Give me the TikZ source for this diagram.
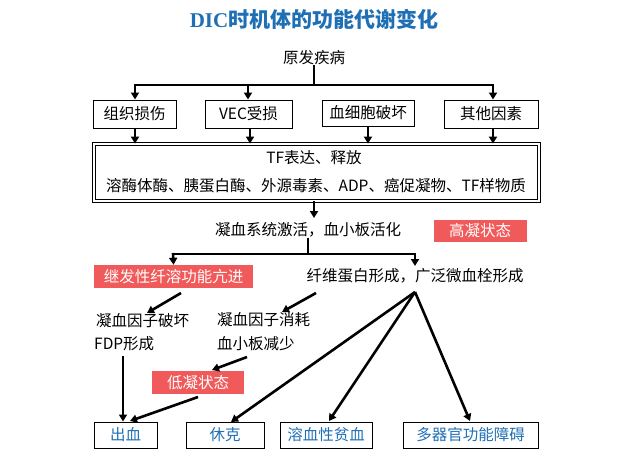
\documentclass[tikz,border=0pt]{standalone}
\usepackage{fontspec}
\setmainfont{Noto Sans CJK SC}
\newfontfamily\titlefont{Liberation Serif}
\usetikzlibrary{arrows.meta}
\definecolor{tblue}{HTML}{1F6FB5}
\definecolor{tred}{HTML}{F05A5A}
\begin{document}
\begin{tikzpicture}[x=1pt,y=-1pt,
  txt/.style={font=\fontsize{15.5}{17}\selectfont,inner sep=0pt},
  box/.style={draw,line width=1pt,inner sep=0pt,font=\fontsize{15.5}{17}\selectfont},
  rbox/.style={fill=tred,inner sep=0pt,text=white,font=\fontsize{15.5}{17}\selectfont},
  bbox/.style={draw,line width=1pt,inner sep=0pt,text=tblue,font=\fontsize{15.5}{17}\selectfont},
  ar/.style={line width=2.6pt,-{Triangle[length=7pt,width=8pt]}},
  ln/.style={line width=2.6pt}]
\useasboundingbox (0,0) rectangle (628,474);
\node[font=\fontsize{21}{23}\selectfont\bfseries,text=tblue] (title) at (314,19) {{\titlefont DIC}时机体的功能代谢变化};
\node[txt] (src) at (314,58) {原发疾病};
\node[box,minimum width=83,minimum height=28] (b1) at (134.5,114) {组织损伤};
\node[box,minimum width=87,minimum height=28] (b2) at (248.5,114) {VEC受损};
\node[box,minimum width=92,minimum height=26] (b3) at (368,113) {血细胞破坏};
\node[box,minimum width=94,minimum height=28] (b4) at (491,114) {其他因素};
\node[draw,double,double distance=1.5pt,line width=0.8pt,minimum width=445,minimum height=57,inner sep=0pt] (big) at (316.5,172.5) {};
\node[txt] (t1) at (314,158) {TF表达、释放};
\node[txt] (t2) at (316,186) {溶酶体酶、胰蛋白酶、外源毒素、ADP、癌促凝物、TF样物质};
\node[txt] (act) at (308,230) {凝血系统激活，血小板活化};
\node[rbox,minimum width=93,minimum height=22] (high) at (480,231) {高凝状态};
\node[rbox,minimum width=159,minimum height=23] (fib) at (173.5,276.5) {继发性纤溶功能亢进};
\node[txt] (micro) at (415,276) {纤维蛋白形成，广泛微血栓形成};
\node[txt,anchor=west] (d1) at (94,321) {\hspace{2pt}凝血因子破坏};
\node[txt,anchor=west] (d2) at (94,344) {FDP形成};
\node[txt,anchor=west] (c1) at (217,320) {凝血因子消耗};
\node[txt,anchor=west] (c2) at (217,344) {血小板减少};
\node[rbox,minimum width=92,minimum height=23] (low) at (198,382.5) {低凝状态};
\node[bbox,minimum width=63,minimum height=26] (o1) at (125.5,435) {出血};
\node[bbox,minimum width=78,minimum height=26] (o2) at (225,435) {休克};
\node[bbox,minimum width=92,minimum height=26] (o3) at (326,435) {溶血性贫血};
\node[bbox,minimum width=135,minimum height=26] (o4) at (470.5,435) {多器官功能障碍};
\coordinate (j1) at (314,85);
\draw[ln] (src.south) -- (j1);
\draw[ln] (135,85) -- (493,85);
\draw[ar] (135,84) -- (b1.north -| 135,0);
\draw[ar] (248,84) -- (b2.north -| 248,0);
\draw[ar] (493,84) -- (b4.north -| 493,0);
\foreach \b/\x in {b1/135,b2/250,b3/368,b4/493}
  \draw[ar] (\b.south -| \x,0) -- (big.north -| \x,0);
\draw[ar] (big.south -| 314,0) -- (314,218);
\coordinate (j2) at (308,254);
\draw[ln] (act.south -| 308,0) -- (j2);
\draw[ln] (173,254) -- (415,254);
\draw[ar] (173,253) -- (fib.north);
\draw[ar] (415,253) -- (415,266);
\draw[ar] (181,293) -- (147,313);
\draw[ar] (316,293) -- (282,312);
\draw[ar] (247,357) -- (212,370);
\draw[ar] (123,356) -- (o1.north -| 123,0);
\draw[ar] (198,397) -- (130,421);
\coordinate (m) at (415,292);
\draw[ar] (m) -- (231,422);
\draw[ar] (m) -- (329,421);
\draw[ar] (m) -- (470,421);
\end{tikzpicture}
\end{document}
